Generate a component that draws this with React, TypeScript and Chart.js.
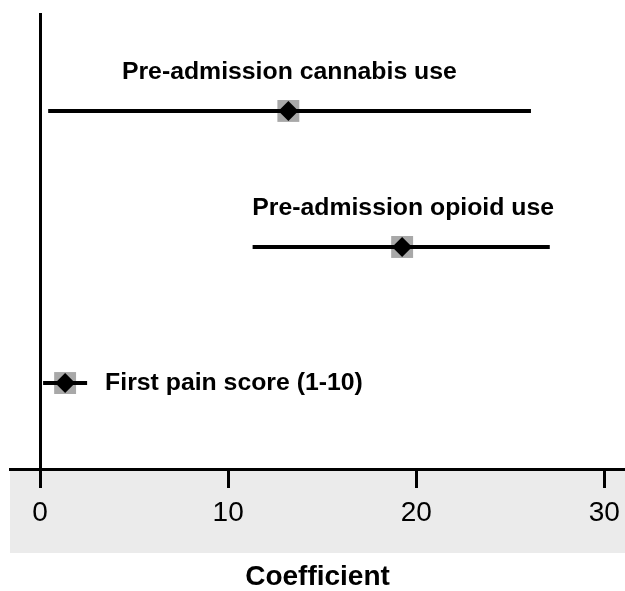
import React, { useEffect, useRef } from "react";
import { Chart, registerables } from "chart.js";

Chart.register(...registerables);

// Regression coefficients with 95% confidence intervals
const rowLabels = [
  "Pre-admission cannabis use",
  "Pre-admission opioid use",
  "First pain score (1-10)",
];
const estimates = [13.2, 19.25, 1.33];
const lowerCI = [0.43, 11.3, 0.16];
const upperCI = [26.1, 27.1, 2.5];
const rowPos = [3, 2, 1];
const labelSide = ["above", "above", "right"];
const xTicks = [0, 10, 20, 30];
const axisTitle = "Coefficient";

const FONT = "'Liberation Sans', Arial, Helvetica, sans-serif";

const axisBand = {
  id: "axisBand",
  beforeDraw(chart: any) {
    const { ctx, chartArea } = chart;
    ctx.save();
    ctx.fillStyle = "#ebebeb";
    ctx.fillRect(chartArea.left, chartArea.bottom, chartArea.right - chartArea.left, 84);
    ctx.restore();
  },
};

const rowText = {
  id: "rowText",
  afterDatasetsDraw(chart: any) {
    const { ctx } = chart;
    const xs = chart.scales.x;
    const ys = chart.scales.y;
    ctx.save();
    ctx.fillStyle = "#000";
    ctx.font = `bold 24.8px ${FONT}`;
    rowLabels.forEach((label, i) => {
      const y = ys.getPixelForValue(rowPos[i]);
      if (labelSide[i] === "above") {
        ctx.textAlign = "center";
        ctx.textBaseline = "alphabetic";
        ctx.fillText(label, xs.getPixelForValue(estimates[i]) + 1, y - 32);
      } else {
        ctx.textAlign = "left";
        ctx.textBaseline = "middle";
        ctx.fillText(label, xs.getPixelForValue(upperCI[i]) + 18, y);
      }
    });
    ctx.restore();
  },
};

export default function App() {
  const canvasRef = useRef<HTMLCanvasElement | null>(null);

  useEffect(() => {
    if (!canvasRef.current) return;

    const ciSets = rowLabels.map((label, i) => ({
      label: label + " CI",
      data: [
        { x: lowerCI[i], y: rowPos[i] },
        { x: upperCI[i], y: rowPos[i] },
      ],
      showLine: true,
      borderColor: "#000",
      borderWidth: 4,
      pointRadius: 0,
      borderCapStyle: "butt" as const,
    }));

    const points = estimates.map((v, i) => ({ x: v, y: rowPos[i] }));

    const chart = new Chart(canvasRef.current, {
      type: "scatter",
      data: {
        datasets: [
          {
            label: "estimate",
            data: points,
            pointStyle: "rectRot",
            pointRadius: 10,
            backgroundColor: "#000",
            borderWidth: 0,
          },
          ...ciSets,
          {
            label: "estimate box",
            data: points,
            pointStyle: "rect",
            pointRadius: 15.5,
            backgroundColor: "#a8a8a8",
            borderWidth: 0,
          },
        ],
      },
      options: {
        responsive: false,
        animation: false,
        layout: { autoPadding: false, padding: { top: 13, left: 10, right: 0, bottom: 0 } },
        plugins: {
          legend: { display: false },
          tooltip: { enabled: false },
        },
        scales: {
          x: {
            type: "linear",
            min: -1.6,
            max: 31.1,
            afterBuildTicks: (scale: any) => {
              scale.ticks = xTicks.map((v) => ({ value: v }));
            },
            afterFit: (scale: any) => {
              scale.height = 122;
              scale.paddingLeft = 0;
              scale.paddingRight = 0;
            },
            grid: {
              color: (c: any) => (c.tick && c.tick.value === 0 ? "#000" : "rgba(0,0,0,0)"),
              lineWidth: 3,
              drawOnChartArea: true,
              drawTicks: true,
              tickLength: 19,
              tickColor: "#000",
              tickWidth: 3,
            },
            border: { display: true, color: "#000", width: 3 },
            ticks: {
              color: "#000",
              padding: 8,
              maxRotation: 0,
              font: { family: FONT, size: 28 },
              callback: (v: any) => String(v),
            },
            title: {
              display: true,
              text: axisTitle,
              color: "#000",
              font: { family: FONT, size: 28, weight: "bold", lineHeight: 1 },
              padding: { top: 0, bottom: 0 },
            },
          },
          y: {
            type: "linear",
            min: 0.368,
            max: 3.72,
            display: false,
          },
        },
      },
      plugins: [axisBand, rowText],
    });

    return () => chart.destroy();
  }, []);

  return (
    <div style={{ position: "absolute", left: 0, top: 0, width: 625, height: 591, background: "#fff" }}>
      <canvas ref={canvasRef} width={625} height={591} style={{ display: "block" }} />
    </div>
  );
}
